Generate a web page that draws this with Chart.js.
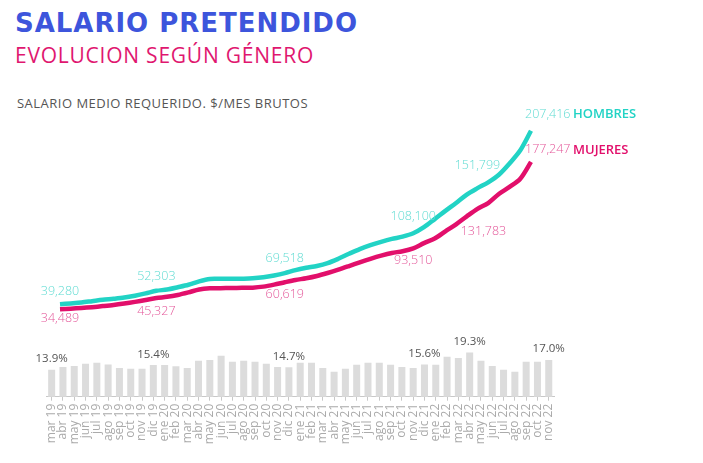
<!DOCTYPE html>
<html>
<head>
<meta charset="utf-8">
<script src="https://cdn.jsdelivr.net/npm/chart.js@4.4.1/dist/chart.umd.min.js"></script>
<style>
  body { margin: 0; width: 703px; height: 463px; overflow: hidden; position: relative; background: #fff; font-family: "Open Sans", sans-serif; }
  canvas { position: absolute; left: 0; top: 0; }
  .txt { position: absolute; white-space: nowrap; line-height: 1; }
  #title { left: 15px; top: 10.3px; font-family: "DejaVu Sans", sans-serif; font-size: 26px; font-weight: 700; color: #3d55dc; }
  #subtitle { left: 15px; top: 44.6px; font-size: 21px; font-weight: 400; color: #e0176f; }
  #unit { left: 17px; top: 96.8px; font-size: 13px; font-weight: 400; color: #555; }
</style>
</head>
<body>
<div class="txt" id="title">SALARIO PRETENDIDO</div>
<div class="txt" id="subtitle">EVOLUCION SEGÚN GÉNERO</div>
<div class="txt" id="unit">SALARIO MEDIO REQUERIDO. $/MES BRUTOS</div>
<canvas id="gapChart" width="703" height="463"></canvas>
<canvas id="salaryChart" width="703" height="463"></canvas>
<script>
// Months (mar 19 .. nov 22)
const months = [
  'mar 19', 'abr 19', 'may 19', 'jun 19', 'jul 19', 'ago 19', 'sep 19', 'oct 19', 'nov 19', 'dic 19',
  'ene 20', 'feb 20', 'mar 20', 'abr 20', 'may 20', 'jun 20', 'jul 20', 'ago 20', 'sep 20', 'oct 20', 'nov 20', 'dic 20',
  'ene 21', 'feb 21', 'mar 21', 'abr 21', 'may 21', 'jun 21', 'jul 21', 'ago 21', 'sep 21', 'oct 21', 'nov 21', 'dic 21',
  'ene 22', 'feb 22', 'mar 22', 'abr 22', 'may 22', 'jun 22', 'jul 22', 'ago 22', 'sep 22', 'oct 22', 'nov 22'
];

// Average requested salary, $/month gross
const hombres = [
  39280, 40100, 41000, 42300, 43600, 44600, 45800, 47600, 49800, 52303,
  53600, 55800, 58200, 61500, 63800, 63900, 64000, 64100, 64400, 65400, 67200, 69518,
  72400, 74600, 76400, 79200, 83400, 88200, 92800, 96600, 99800, 102600, 104800, 108100,
  114000, 121800, 129800, 137500, 145600, 151799, 157500, 164800, 175800, 188500, 207416
];
const mujeres = [
  34489, 35000, 35700, 36500, 37500, 38600, 40000, 41600, 43400, 45327,
  46500, 48300, 50800, 53600, 54700, 54800, 55100, 55200, 55400, 56400, 58300, 60619,
  62800, 64500, 66700, 69600, 72800, 76300, 79900, 83300, 86400, 89000, 90700, 93510,
  98500, 103000, 110000, 116800, 124500, 131783, 137400, 146200, 153000, 161000, 177247
];

// Gender gap, %
const brecha = [
  13.9, 14.8, 15.1, 15.8, 16.1, 15.6, 14.5, 14.2, 14.2, 15.4,
  15.4, 15.0, 14.5, 16.7, 17.0, 18.3, 16.4, 16.7, 16.4, 15.8, 14.8, 14.7,
  16.1, 16.1, 14.5, 13.3, 14.2, 15.5, 16.1, 16.1, 15.5, 14.8, 14.5, 15.6,
  15.5, 18.0, 17.6, 19.3, 16.7, 15.1, 13.9, 13.3, 16.4, 16.4, 17.0
];

// Which points get a value label
const salaryLabelIdx = [0, 9, 21, 33, 39];
const gapLabelIdx = [0, 9, 21, 33, 37, 44];

const CYAN = '#22d3c5';
const MAGENTA = '#e20f6b';
const labelFont = '300 12.5px "Open Sans"';

function fmt(v) {
  return v.toLocaleString('en-US');
}

// Value labels on the two salary lines
const salaryLabels = {
  id: 'salaryLabels',
  afterDatasetsDraw(chart) {
    const ctx = chart.ctx;
    const hMeta = chart.getDatasetMeta(0);
    const mMeta = chart.getDatasetMeta(1);
    const upOff = [-13, -14, -15, -17, -23];
    const downOff = [9, 13, 12, 12, 23];
    ctx.save();
    ctx.font = labelFont;
    ctx.textAlign = 'center';
    ctx.textBaseline = 'middle';
    salaryLabelIdx.forEach((i, k) => {
      const h = hMeta.data[i];
      const m = mMeta.data[i];
      ctx.fillStyle = '#62dcd3';
      ctx.fillText(fmt(hombres[i]), h.x, h.y + upOff[k]);
      ctx.fillStyle = '#e4589a';
      ctx.fillText(fmt(mujeres[i]), m.x + (k === 4 ? 6 : 0), m.y + downOff[k]);
    });

    // last values + series names
    const last = months.length - 1;
    const hl = hMeta.data[last];
    const ml = mMeta.data[last];
    ctx.textAlign = 'left';
    ctx.fillStyle = '#62dcd3';
    ctx.fillText(fmt(hombres[last]), hl.x - 6, hl.y - 16);
    ctx.fillStyle = '#e4589a';
    ctx.fillText(fmt(mujeres[last]), ml.x - 6, ml.y - 12);
    ctx.font = '600 13px "Open Sans"';
    ctx.fillStyle = CYAN;
    ctx.fillText('HOMBRES', 573, hl.y - 16);
    ctx.fillStyle = MAGENTA;
    ctx.fillText('MUJERES', 573, ml.y - 12);
    ctx.restore();
  }
};

// Percentage labels above a few gap bars
const gapLabels = {
  id: 'gapLabels',
  afterDatasetsDraw(chart) {
    const ctx = chart.ctx;
    const meta = chart.getDatasetMeta(0);
    ctx.save();
    ctx.font = '400 11.5px "Open Sans"';
    ctx.fillStyle = '#555';
    ctx.textAlign = 'center';
    ctx.textBaseline = 'bottom';
    gapLabelIdx.forEach(i => {
      const bar = meta.data[i];
      ctx.fillText(brecha[i].toFixed(1) + '%', bar.x, bar.y - 5);
    });
    ctx.restore();
  }
};

// Bars: gender gap
new Chart(document.getElementById('gapChart').getContext('2d'), {
  type: 'bar',
  data: {
    labels: months,
    datasets: [{
      data: brecha,
      backgroundColor: '#dcdcdc',
      barPercentage: 0.62,
      categoryPercentage: 1
    }]
  },
  options: {
    responsive: false,
    animation: false,
    devicePixelRatio: 1,
    layout: { padding: { left: 46, right: 148.6, top: 334.3, bottom: 0 } },
    plugins: { legend: { display: false }, tooltip: { enabled: false } },
    scales: {
      x: {
        offset: true,
        grid: { offset: false, drawOnChartArea: false, tickLength: 4, color: '#c8c8c8' },
        border: { color: '#c8c8c8' },
        ticks: {
          autoSkip: false,
          minRotation: 90,
          maxRotation: 90,
          padding: 3,
          color: '#ababab',
          font: { family: 'Open Sans', size: 12, weight: '400' }
        },
        afterFit(scale) { scale.height = 66.3; }
      },
      y: { display: false, min: 5.5, max: 25 }
    }
  },
  plugins: [gapLabels]
});

// Lines: salary by gender
new Chart(document.getElementById('salaryChart').getContext('2d'), {
  type: 'line',
  data: {
    labels: months,
    datasets: [
      { label: 'HOMBRES', data: hombres, borderColor: CYAN, borderWidth: 4.5, pointRadius: 0, tension: 0.3, clip: false },
      { label: 'MUJERES', data: mujeres, borderColor: MAGENTA, borderWidth: 4.5, pointRadius: 0, tension: 0.3, clip: false }
    ]
  },
  options: {
    responsive: false,
    animation: false,
    devicePixelRatio: 1,
    layout: { padding: { left: 60, right: 172, top: 117.8, bottom: 118.2 } },
    plugins: { legend: { display: false }, tooltip: { enabled: false } },
    scales: {
      x: { display: false, offset: false },
      y: { display: false, min: 0, max: 220000 }
    }
  },
  plugins: [salaryLabels]
});

// Stretch the heading texts to the widths of the original
function fitWidth(id, target) {
  const el = document.getElementById(id);
  const w = el.getBoundingClientRect().width;
  el.style.letterSpacing = ((target - w) / el.textContent.length) + 'px';
}
fitWidth('title', 343);
fitWidth('subtitle', 299);
fitWidth('unit', 291);
</script>
</body>
</html>
